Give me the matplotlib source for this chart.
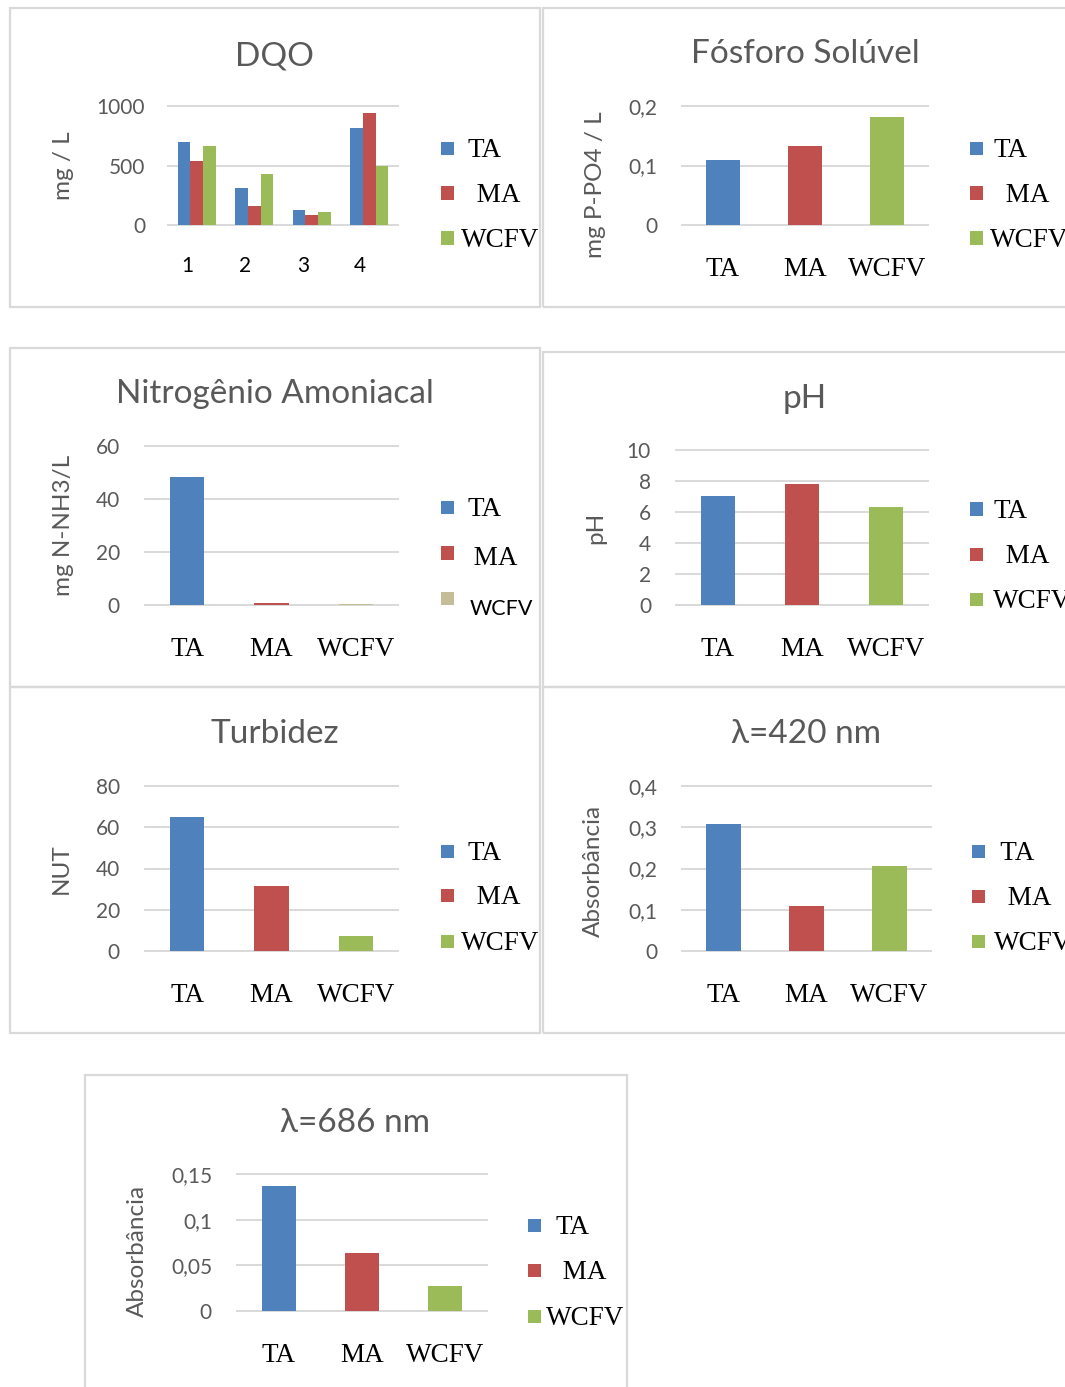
import matplotlib
matplotlib.use('Agg')
import matplotlib.pyplot as plt
from matplotlib.patches import Rectangle
from matplotlib.transforms import ScaledTranslation
import numpy as np

# data
SAMPLES = ['TA', 'MA', 'WCFV']
DQO_GROUPS = ['1', '2', '3', '4']
dqo_ta = [700, 310, 125, 815]
dqo_ma = [540, 160, 80, 940]
dqo_wcfv = [660, 430, 110, 500]

fosforo = [0.110, 0.133, 0.182]
nitrogenio = [48.4, 0.8, 0.3]
ph = [7.0, 7.8, 6.3]
turbidez = [65.1, 31.6, 7.3]
abs420 = [0.309, 0.110, 0.207]
abs686 = [0.137, 0.063, 0.027]

dqo_ticks = [0, 500, 1000]
dqo_ticklabels = ['0', '500', '1000']
fosforo_ticks = [0, 0.1, 0.2]
fosforo_ticklabels = ['0', '0,1', '0,2']
nitro_ticks = [0, 20, 40, 60]
nitro_ticklabels = ['0', '20', '40', '60']
ph_ticks = [0, 2, 4, 6, 8, 10]
ph_ticklabels = ['0', '2', '4', '6', '8', '10']
turb_ticks = [0, 20, 40, 60, 80]
turb_ticklabels = ['0', '20', '40', '60', '80']
abs420_ticks = [0, 0.1, 0.2, 0.3, 0.4]
abs420_ticklabels = ['0', '0,1', '0,2', '0,3', '0,4']
abs686_ticks = [0, 0.05, 0.1, 0.15]
abs686_ticklabels = ['0', '0,05', '0,1', '0,15']

BLUE, RED, GREEN, BEIGE = '#4F81BD', '#C0504D', '#9BBB59', '#C4BD97'
GRID = '#D9D9D9'
GRAYTXT = '#595959'
SANS = 'Lato'
SERIF = 'Liberation Serif'

W, H = 1065, 1387
fig = plt.figure(figsize=(W / 100, H / 100), dpi=100)


def fx(x):
    return x / W


def fy(y):
    return 1 - y / H


def frame(x0, y0, x1, y1):
    fig.add_artist(Rectangle((fx(x0), fy(y1)), fx(x1) - fx(x0), fy(y0) - fy(y1),
                             transform=fig.transFigure, fill=False,
                             edgecolor=GRID, lw=1.6))


def make_axes(x0, y0, x1, y1, ticks, ticklabels, ypad):
    ax = fig.add_axes([fx(x0), fy(y1), fx(x1) - fx(x0), fy(y0) - fy(y1)])
    for s in ax.spines.values():
        s.set_visible(False)
    ax.set_ylim(ticks[0], ticks[-1])
    ax.set_yticks(ticks)
    ax.set_yticklabels(ticklabels, fontfamily=SANS, fontsize=15, color=GRAYTXT)
    ax.tick_params(axis='y', length=0, pad=ypad)
    ax.tick_params(axis='x', length=0)
    for t in ticks:
        ax.axhline(t, color=GRID, lw=1.4, zorder=0, clip_on=False)
    ax.patch.set_alpha(0)
    return ax


def legend(entries, marker_x, rows, text_xs, fonts=None, text_dy=None):
    for i, ((label, color), y, tx) in enumerate(zip(entries, rows, text_xs)):
        fig.add_artist(Rectangle((fx(marker_x), fy(y + 6.5)), 13 / W, 13 / H,
                                 transform=fig.transFigure, color=color, lw=0))
        fam, size = (SERIF, 19.5) if fonts is None else fonts[i]
        dy = 0 if text_dy is None else text_dy[i]
        fig.text(fx(tx), fy(y + 9 + dy), label, ha='left', va='baseline',
                 fontfamily=fam, fontsize=size, color='black')


def title(x, y, s):
    fig.text(fx(x), fy(y), s, ha='center', va='baseline', fontfamily=SANS,
             fontsize=24, color=GRAYTXT)


def ylabel(x, y, s):
    fig.text(fx(x), fy(y), s, ha='center', va='center', rotation=90,
             fontfamily=SANS, fontsize=17.5, color=GRAYTXT)


def single_panel(box, values, colors, ticks, ticklabels):
    ax = make_axes(*box, ticks, ticklabels, 18)
    x = np.arange(len(values))
    ax.bar(x, values, width=0.41, color=colors, zorder=2)
    ax.set_xlim(-0.5, len(values) - 0.5)
    ax.set_xticks(x)
    ax.set_xticklabels(SAMPLES, fontfamily=SERIF, fontsize=19.5, color='black')
    ax.tick_params(axis='x', pad=23)
    return ax


# frames
frame(10, 8, 540, 307)
frame(543, 8, 1075, 307)
frame(10, 348, 540, 687)
frame(543, 352, 1075, 687)
frame(10, 687, 540, 1033)
frame(543, 687, 1075, 1033)
frame(85, 1075, 627, 1400)

series_cols = [('TA', BLUE), (' MA', RED), ('WCFV', GREEN)]

# DQO
ax = make_axes(168, 106, 398, 225, dqo_ticks, dqo_ticklabels, 16.5)
x = np.arange(len(DQO_GROUPS))
for vals, col, off in [(dqo_ta, BLUE, -0.22), (dqo_ma, RED, 0), (dqo_wcfv, GREEN, 0.22)]:
    ax.bar(x + off, vals, width=0.22, color=col, zorder=2)
ax.set_xlim(-0.5, 3.5)
ax.set_xticks(x)
ax.set_xticklabels(DQO_GROUPS, fontfamily=SANS, fontsize=15, color='black')
ax.tick_params(axis='x', pad=22)
for lab in ax.get_xticklabels():
    lab.set_transform(lab.get_transform() + ScaledTranslation(-0.09, 0, fig.dpi_scale_trans))
title(275, 65, 'DQO')
ylabel(63, 166, 'mg / L')
legend(series_cols, 441, [148, 193, 238], [467, 470, 461])

# Fosforo
single_panel((682, 106, 928, 225), fosforo, [BLUE, RED, GREEN], fosforo_ticks, fosforo_ticklabels)
title(805, 63, 'Fósforo Solúvel')
ylabel(596, 185, 'mg P-PO4 / L')
legend(series_cols, 970, [148, 193, 238], [993, 999, 990])

# Nitrogenio
single_panel((145, 446, 398, 605), nitrogenio, [BLUE, RED, BEIGE], nitro_ticks, nitro_ticklabels)
title(275, 403, 'Nitrogênio Amoniacal')
ylabel(63, 525, 'mg N-NH3/L')
legend([('TA', BLUE), (' MA', RED), ('WCFV', BEIGE)], 441, [507, 553, 598], [467, 467, 470],
       fonts=[(SERIF, 19.5), (SERIF, 19.5), (SANS, 15.5)], text_dy=[0, 3, 8])

# pH
single_panel((676, 450, 928, 605), ph, [BLUE, RED, GREEN], ph_ticks, ph_ticklabels)
title(805, 408, 'pH')
ylabel(596, 528, 'pH')
legend(series_cols, 970, [509, 554, 599], [993, 999, 993])

# Turbidez
single_panel((145, 786, 398, 951), turbidez, [BLUE, RED, GREEN], turb_ticks, turb_ticklabels)
title(275, 743, 'Turbidez')
ylabel(61, 869, 'NUT')
legend(series_cols, 441, [851, 895, 941], [467, 470, 461])

# 420 nm
single_panel((682, 786, 931, 951), abs420, [BLUE, RED, GREEN], abs420_ticks, abs420_ticklabels)
title(806, 743, 'λ=420 nm')
ylabel(593, 871, 'Absorbância')
legend([(' TA', BLUE), (' MA', RED), ('WCFV', GREEN)], 972, [851, 896, 941], [994, 1001, 994])

# 686 nm
single_panel((237, 1174, 487, 1311), abs686, [BLUE, RED, GREEN], abs686_ticks, abs686_ticklabels)
title(355, 1132, 'λ=686 nm')
ylabel(137, 1251, 'Absorbância')
legend(series_cols, 528, [1225, 1270, 1316], [555, 556, 546])

fig.savefig('out.png', dpi=100)
